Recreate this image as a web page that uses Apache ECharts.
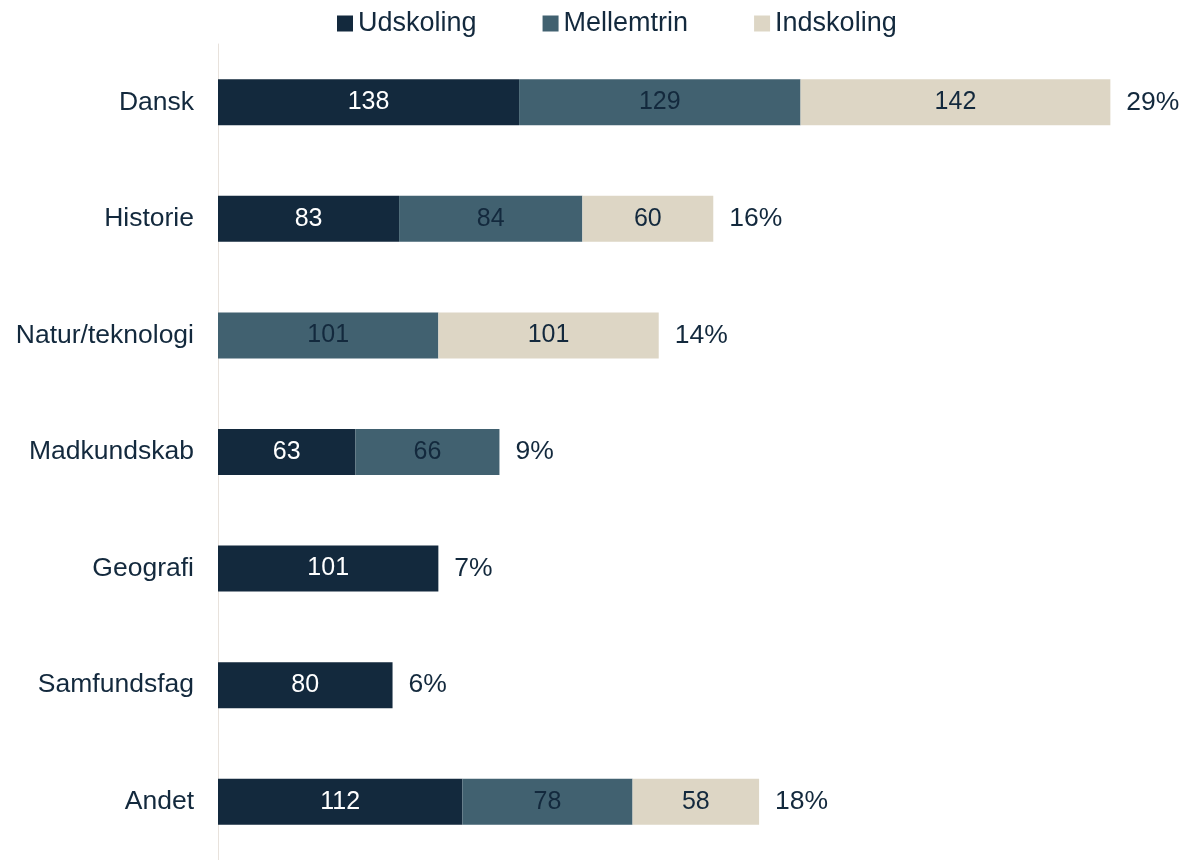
<!DOCTYPE html>
<html><head><meta charset="utf-8">
<script src="https://cdn.jsdelivr.net/npm/echarts@6/dist/echarts.min.js"></script>
<style>html,body{margin:0;padding:0;background:#fff}#c{width:1184px;height:860px}</style>
</head><body><div id="c"></div>
<script>
const categories = ['Dansk','Historie','Natur/teknologi','Madkundskab','Geografi','Samfundsfag','Andet'];
const udskoling = [138, 83, null, 63, 101, 80, 112];
const mellemtrin = [129, 84, 101, 66, null, null, 78];
const indskoling = [142, 60, 101, null, null, null, 58];
const shares = ['29%','16%','14%','9%','7%','6%','18%'];

const dark = '#13293d';
const font = 'Liberation Sans';
const chart = echarts.init(document.getElementById('c'), null, {renderer:'canvas'});
function seg(name, data, color, textColor){
  return {name, type:'bar', stack:'t', data, barWidth:46,
    itemStyle:{color},
    label:{show:true, position:'inside', color:textColor, fontSize:25, fontFamily:font,
      formatter: p => (p.value==null||p.value===0)?'':p.value},
    emphasis:{disabled:true}};
}
chart.setOption({
  animation:false,
  textStyle:{fontFamily:font},
  legend:{top:10, left:337, padding:0, itemWidth:16, itemHeight:16, itemGap:66, icon:'rect',
    data:['Udskoling','Mellemtrin','Indskoling'],
    textStyle:{fontSize:27, color:dark, fontFamily:font, padding:[0,0,0,0]}},
  grid:{left:218, right:6, top:44, bottom:-3, containLabel:false},
  xAxis:{type:'value', min:0, max:440, show:false},
  yAxis:{type:'category', data:categories, inverse:true,
    axisLine:{show:true, lineStyle:{color:'#e8e2dc', width:1}},
    axisTick:{show:false},
    axisLabel:{fontSize:26.5, color:dark, fontFamily:font, margin:24}},
  series:[
    seg('Udskoling', udskoling, '#13293d', '#ffffff'),
    seg('Mellemtrin', mellemtrin, '#416170', dark),
    seg('Indskoling', indskoling, '#ddd6c5', dark),
    {name:'share', type:'bar', stack:'t', data:shares.map(()=>0), barWidth:46,
      itemStyle:{color:'transparent'},
      label:{show:true, position:'right', distance:16, color:dark, fontSize:26.5, fontFamily:font,
        formatter: p => shares[p.dataIndex]},
      emphasis:{disabled:true}}
  ]
});
</script></body></html>
